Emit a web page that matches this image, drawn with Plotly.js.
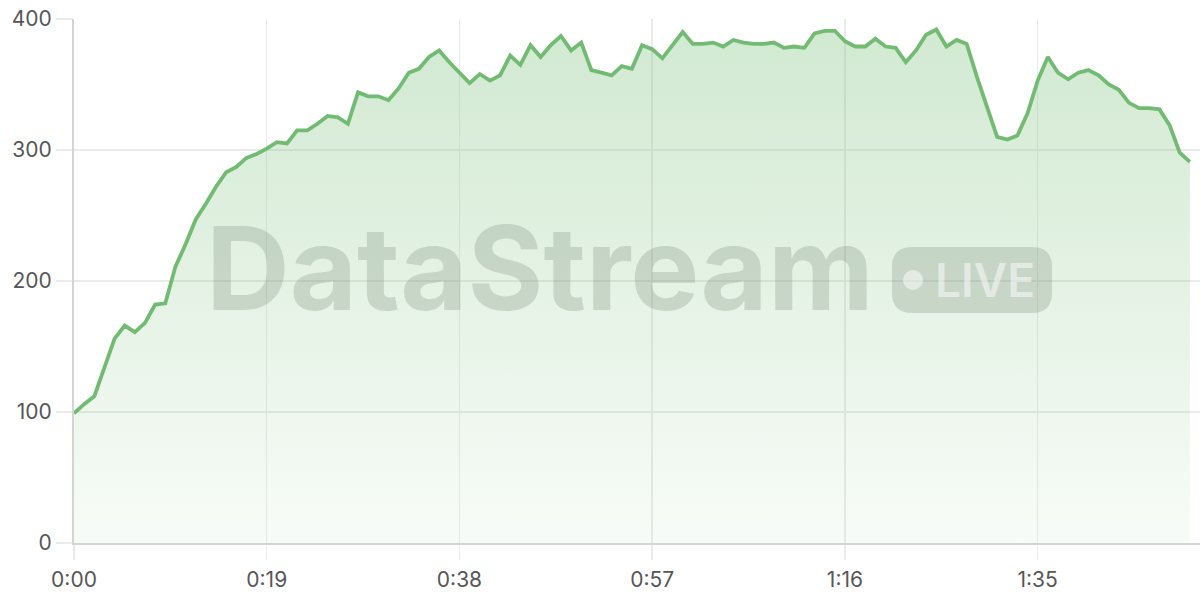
<!DOCTYPE html>
<html>
<head>
<meta charset="utf-8">
<script src="https://cdn.plot.ly/plotly-3.0.1.min.js"></script>
<style>
  html, body { margin: 0; padding: 0; background: #fff; }
  #chart { width: 1200px; height: 600px; }
</style>
</head>
<body>
<div id="chart"></div>
<script>
// Throughput sampled once per second, 0:00 .. 1:50
const throughput = [
  99, 106, 112, 134, 156, 166, 161, 168, 182, 183,
  211, 228, 247, 259, 272, 283, 287, 294, 297, 301,
  306, 305, 315, 315, 320, 326, 325, 320, 344, 341,
  341, 338, 347, 359, 362, 371, 376, 367, 359, 351,
  358, 353, 357, 372, 365, 380, 371, 380, 387, 376,
  382, 361, 359, 357, 364, 362, 380, 377, 370, 380,
  390, 381, 381, 382, 379, 384, 382, 381, 381, 382,
  378, 379, 378, 389, 391, 391, 383, 379, 379, 385,
  379, 378, 367, 376, 388, 392, 379, 384, 381, 356,
  333, 310, 308, 311, 328, 353, 371, 359, 354, 359,
  361, 357, 350, 346, 336, 332, 332, 331, 319, 298,
  291
];
const seconds = throughput.map((_, i) => i);

const xTickVals = [0, 19, 38, 57, 76, 95];
const xTickText = ["0:00", "0:19", "0:38", "0:57", "1:16", "1:35"];
const yTickVals = [0, 100, 200, 300, 400];

const GREEN = "114,187,114";
const GRID = "#ebebeb";
const AXIS = "#d4d4d4";
const WM = "rgba(95,115,95,0.22)";

// plot area in pixels, used to place the watermark badge
const PLOT = { l: 74, r: 0, t: 19, b: 57 };
const PW = 1200 - PLOT.l - PLOT.r;
const PH = 600 - PLOT.t - PLOT.b;
const px = x => (x - PLOT.l) / PW;
const py = y => (600 - PLOT.b - y) / PH;

function roundRect(x0, y0, x1, y1, r) {
  const rx = r / PW, ry = r / PH;
  const a = px(x0), b = px(x1), top = py(y0), bot = py(y1);
  return `M ${a + rx},${bot} L ${b - rx},${bot} Q ${b},${bot} ${b},${bot + ry} ` +
         `L ${b},${top - ry} Q ${b},${top} ${b - rx},${top} ` +
         `L ${a + rx},${top} Q ${a},${top} ${a},${top - ry} ` +
         `L ${a},${bot + ry} Q ${a},${bot} ${a + rx},${bot} Z`;
}

const data = [{
  type: "scatter",
  mode: "lines",
  x: seconds,
  y: throughput,
  fill: "tozeroy",
  fillgradient: {
    type: "vertical",
    start: 0,
    stop: 400,
    colorscale: [[0, `rgba(${GREEN},0.05)`], [1, `rgba(${GREEN},0.33)`]],
  },
  line: { color: `rgb(${GREEN})`, width: 3.8, shape: "linear" },
  hoverinfo: "skip",
}];

const dotR = 10;
const layout = {
  width: 1200,
  height: 600,
  paper_bgcolor: "#ffffff",
  plot_bgcolor: "#ffffff",
  showlegend: false,
  margin: PLOT,
  font: { family: "Inter, 'Noto Sans', sans-serif", size: 21, color: "#575757" },
  xaxis: {
    range: [0, 111],
    tickvals: xTickVals,
    ticktext: xTickText,
    showgrid: true,
    gridcolor: GRID,
    gridwidth: 1.5,
    zeroline: false,
    showline: true,
    linecolor: AXIS,
    linewidth: 2,
    ticks: "outside",
    ticklen: 15,
    tickwidth: 1.5,
    tickcolor: GRID,
    ticklabelstandoff: 2,
    fixedrange: true,
  },
  yaxis: {
    range: [0, 400],
    tickvals: yTickVals,
    showgrid: true,
    gridcolor: GRID,
    gridwidth: 1.5,
    zeroline: false,
    showline: true,
    linecolor: AXIS,
    linewidth: 2,
    ticks: "outside",
    ticklen: 16,
    tickwidth: 1.5,
    tickcolor: GRID,
    fixedrange: true,
  },
  shapes: [
    {
      type: "path", xref: "paper", yref: "paper",
      path: roundRect(892, 247, 1052, 313, 20),
      fillcolor: WM, line: { width: 0 }, layer: "above",
    },
    {
      type: "circle", xref: "paper", yref: "paper",
      x0: px(913 - dotR), x1: px(913 + dotR),
      y0: py(280 + dotR), y1: py(280 - dotR),
      fillcolor: "rgba(255,255,255,0.5)", line: { width: 0 }, layer: "above",
    },
  ],
  annotations: [
    {
      xref: "paper", yref: "paper",
      x: px(540), y: py(268),
      xanchor: "center", yanchor: "middle",
      text: "DataStream", showarrow: false,
      font: { family: "Inter, sans-serif", size: 116, weight: 700, color: WM },
    },
    {
      xref: "paper", yref: "paper",
      x: px(985), y: py(280),
      xanchor: "center", yanchor: "middle",
      text: "LIVE", showarrow: false,
      font: { family: "Inter, sans-serif", size: 46, weight: 600, color: "rgba(255,255,255,0.5)" },
    },
  ],
};

Plotly.newPlot("chart", data, layout, { displayModeBar: false, staticPlot: true });
</script>
</body>
</html>
